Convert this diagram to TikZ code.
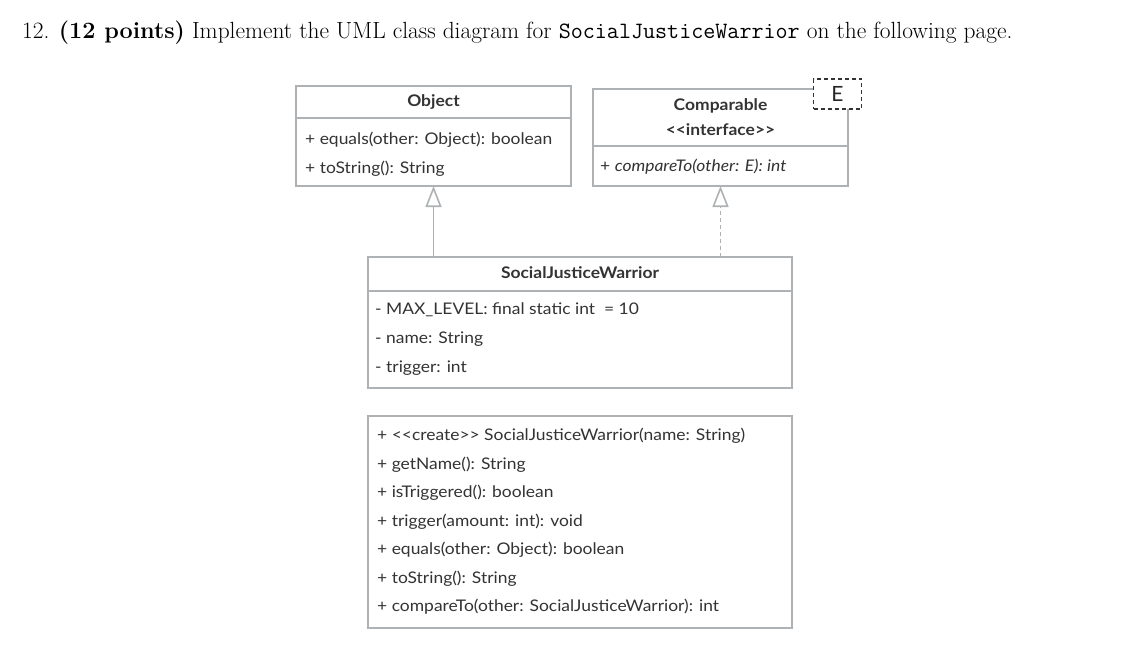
\documentclass[tikz,border=0pt]{standalone}
\usepackage{fontspec}
\newfontfamily\umlfont[FakeStretch=1.09]{Lato}
\newfontfamily\parfont{Lato}
\usetikzlibrary{arrows.meta}
\definecolor{umltext}{HTML}{333333}
\definecolor{umlline}{HTML}{AEB2B4}
\tikzset{
  box/.style={draw=umlline, line width=1.6pt, fill=white, inner sep=0pt, outer sep=0pt},
  title/.style={font=\umlfont\fontsize{16}{19}\selectfont\bfseries, text=umltext, inner sep=0pt, anchor=base},
  member/.style={font=\umlfont\fontsize{16}{19}\selectfont, text=umltext, inner sep=0pt, anchor=base west},
  gen/.style={draw=umlline, line width=1.6pt, -{Triangle[open, length=21pt, width=16pt]}},
}
\begin{document}
\begin{tikzpicture}[x=1pt,y=-1pt]
\useasboundingbox (0,0) rectangle (1137,650);

% heading
\node[anchor=base west, inner sep=0pt, font=\fontsize{23.4}{28}\selectfont] (head) at (22,38.5)
  {12. \textbf{(12 points)} Implement the UML class diagram for \texttt{SocialJusticeWarrior} on the following page.};

% Object
\node[box, minimum width=275pt, minimum height=32pt] (objH) at (433.5,102) {};
\node[box, minimum width=275pt, minimum height=68pt, anchor=north] (objB) at (objH.south) {};
\node[title] (objT) at (433.5,106.5) {Object};
\node[member] (objM1) at (305,144) {+ equals(other: Object): boolean};
\node[member] (objM2) at (305,173) {+ toString(): String};

% Comparable
\node[box, minimum width=255pt, minimum height=57pt] (cmpH) at (720.5,117.5) {};
\node[box, minimum width=255pt, minimum height=40pt, anchor=north] (cmpB) at (cmpH.south) {};
\node[title] (cmpT1) at (720.5,110.5) {Comparable};
\node[title] (cmpT2) at (720.5,135.5) {<{}<interface>{}>};
\node[member] (cmpM1) at (600,171) {+ \itshape compareTo(other: E): int};
\node[draw=black!80, line width=1.2pt, dash pattern=on 4pt off 3pt, fill=white,
      minimum width=48pt, minimum height=30pt, inner sep=0pt,
      font=\parfont\fontsize{21}{24}\selectfont, text=black!85] (param) at (837.5,94) {E};

% SocialJusticeWarrior
\node[box, minimum width=424pt, minimum height=34pt] (sjwH) at (580,274) {};
\node[box, minimum width=424pt, minimum height=97pt, anchor=north] (sjwB) at (sjwH.south) {};
\node[title] (sjwT) at (580,278) {SocialJusticeWarrior};
\node[member] (sjwA1) at (375,314) {- MAX\_LEVEL: final static int~~= 10};
\node[member] (sjwA2) at (375,343) {- name: String};
\node[member] (sjwA3) at (375,372) {- trigger: int};

% methods
\node[box, minimum width=424pt, minimum height=212pt] (meth) at (580,522) {};
\node[member] (m1) at (377,440) {+ <{}<create>{}> SocialJusticeWarrior(name: String)};
\node[member] (m2) at (377,469) {+ getName(): String};
\node[member] (m3) at (377,497) {+ isTriggered(): boolean};
\node[member] (m4) at (377,526) {+ trigger(amount: int): void};
\node[member] (m5) at (377,554) {+ equals(other: Object): boolean};
\node[member] (m6) at (377,583) {+ toString(): String};
\node[member] (m7) at (377,611) {+ compareTo(other: SocialJusticeWarrior): int};

% relations
\draw[gen] (sjwH.north -| objB.south) -- (objB.south);
\draw[gen, dash pattern=on 4pt off 3pt] (sjwH.north -| cmpB.south) -- (cmpB.south);
\end{tikzpicture}
\end{document}
